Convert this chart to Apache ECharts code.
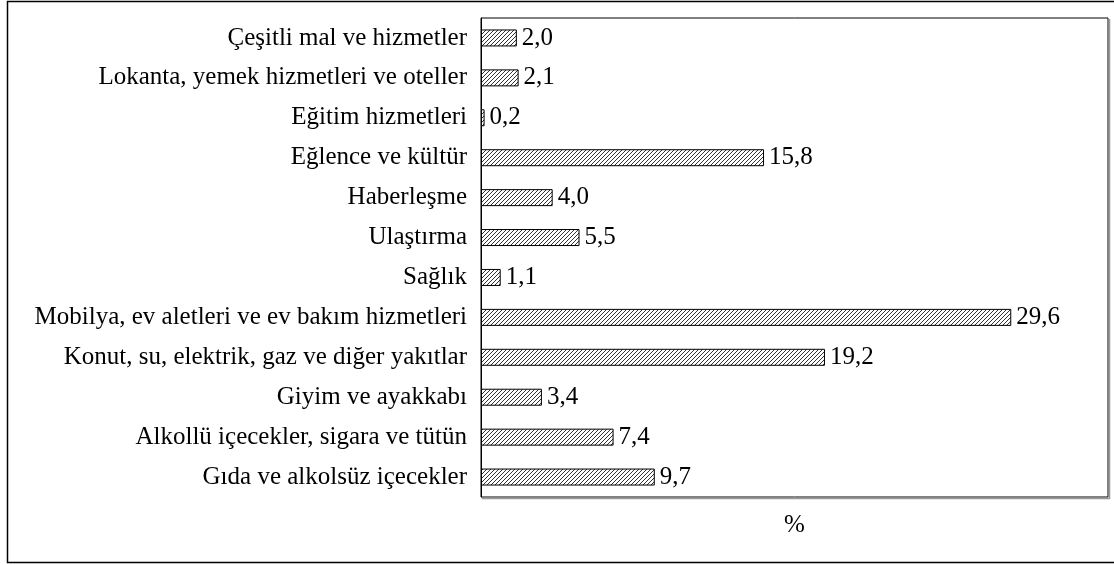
<!DOCTYPE html>
<html>
<head>
<meta charset="utf-8">
<script src="https://cdn.jsdelivr.net/npm/echarts@6/dist/echarts.min.js"></script>
<style>
  html, body { margin: 0; padding: 0; background: #fff; }
  #main { width: 1114px; height: 565px; }
</style>
</head>
<body>
<div id="main"></div>
<script>
// kategoriler (yukarıdan aşağıya)
var categories = [
  'Çeşitli mal ve hizmetler',
  'Lokanta, yemek hizmetleri ve oteller',
  'Eğitim hizmetleri',
  'Eğlence ve kültür',
  'Haberleşme',
  'Ulaştırma',
  'Sağlık',
  'Mobilya, ev aletleri ve ev bakım hizmetleri',
  'Konut, su, elektrik, gaz ve diğer yakıtlar',
  'Giyim ve ayakkabı',
  'Alkollü içecekler, sigara ve tütün',
  'Gıda ve alkolsüz içecekler'
];
var values = [2.0, 2.1, 0.2, 15.8, 4.0, 5.5, 1.1, 29.6, 19.2, 3.4, 7.4, 9.7];
var axisName = '%';

// taralı desen
function hatch() {
  var c = document.createElement('canvas');
  c.width = 4; c.height = 4;
  var ctx = c.getContext('2d');
  ctx.fillStyle = '#fff';
  ctx.fillRect(0, 0, 4, 4);
  ctx.strokeStyle = '#333';
  ctx.lineWidth = 1;
  ctx.beginPath();
  ctx.moveTo(-1, 5); ctx.lineTo(5, -1);
  ctx.moveTo(-1, 1); ctx.lineTo(1, -1);
  ctx.moveTo(3, 5); ctx.lineTo(5, 3);
  ctx.stroke();
  return c;
}

var myChart = echarts.init(document.getElementById('main'));
var font = '"Liberation Serif", "Times New Roman", serif';

var option = {
  animation: false,
  grid: {
    left: 481, right: 6, top: 18, bottom: 68,
    show: true,
    borderColor: '#000',
    borderWidth: 1
  },
  graphic: [
    {
      type: 'rect',
      shape: { x: 7.5, y: 1.5, width: 1120, height: 561 },
      style: { fill: 'none', stroke: '#000', lineWidth: 1.5 },
      silent: true
    },
    {
      type: 'polyline',
      shape: { points: [[1109.5, 19], [1109.5, 498.5], [482, 498.5]] },
      style: { fill: 'none', stroke: '#999', lineWidth: 1.5 },
      silent: true
    }
  ],
  xAxis: {
    type: 'value',
    min: 0,
    max: 35,
    name: axisName,
    nameLocation: 'middle',
    nameGap: 16,
    nameTextStyle: { fontFamily: font, fontSize: 25, color: '#000' },
    axisLabel: { show: false },
    axisTick: { show: false },
    axisLine: { show: false },
    splitLine: { show: false }
  },
  yAxis: {
    type: 'category',
    inverse: true,
    data: categories,
    axisTick: { show: false },
    axisLine: { show: true, lineStyle: { color: '#000', width: 1 } },
    axisLabel: {
      margin: 14,
      fontFamily: font,
      fontSize: 25,
      color: '#000'
    }
  },
  series: [{
    type: 'bar',
    data: values,
    barWidth: 17,
    itemStyle: {
      color: { image: hatch(), repeat: 'repeat' },
      borderColor: '#000',
      borderWidth: 1
    },
    label: {
      show: true,
      position: 'right',
      distance: 5,
      fontFamily: font,
      fontSize: 25,
      color: '#000',
      formatter: function (p) { return p.value.toFixed(1).replace('.', ','); }
    }
  }]
};

myChart.setOption(option);
</script>
</body>
</html>
